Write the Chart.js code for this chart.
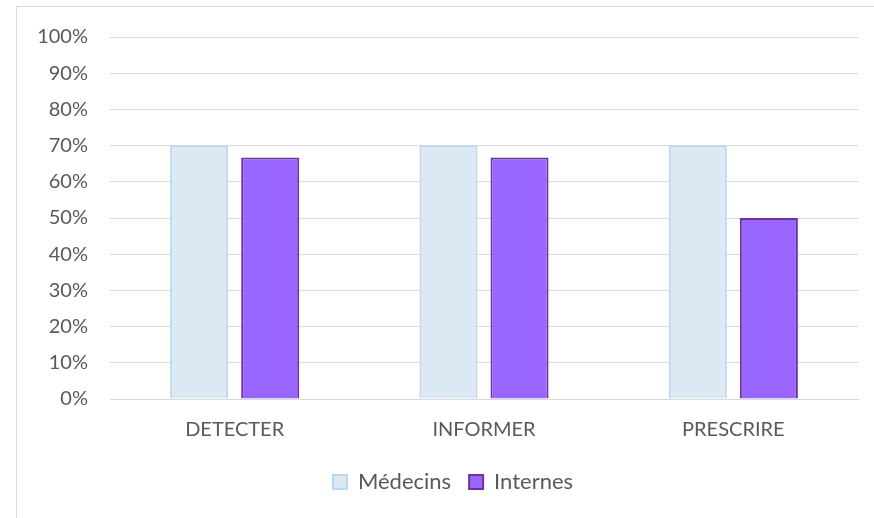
<!DOCTYPE html>
<html>
<head>
<meta charset="utf-8">
<script src="https://cdn.jsdelivr.net/npm/chart.js@4"></script>
<style>
  html, body { margin: 0; padding: 0; background: #fff; overflow: hidden; }
  #frame { position: absolute; left: 16px; top: 6px; width: 900px; height: 600px; border: 1px solid #d9d9d9; }
  #wrap { position: absolute; left: 0; top: 0; width: 874px; height: 518px; }
</style>
</head>
<body>
<div id="frame"></div>
<div id="wrap"><canvas id="chart" width="874" height="518"></canvas></div>
<script>
// Chart data
const categories = ['DETECTER', 'INFORMER', 'PRESCRIRE'];
const medecins = [70, 70, 70];
const internes = [66.7, 66.7, 50];
const yTicks = [0, 10, 20, 30, 40, 50, 60, 70, 80, 90, 100];

const font = { family: 'Lato, "Open Sans", sans-serif', size: 20 };
const grey = '#595959';

// the original legend sits a bit right of centre
const shiftLegend = {
    id: 'shiftLegend',
    afterLayout(chart) {
        chart.legend.left += 24;
        chart.legend.right += 24;
    }
};

const ctx = document.getElementById('chart').getContext('2d');
new Chart(ctx, {
    type: 'bar',
    data: {
        labels: categories,
        datasets: [{
            label: 'Médecins',
            data: medecins,
            backgroundColor: '#dde8f5',
            borderColor: '#bdd7ee',
            borderWidth: 2
        }, {
            label: 'Internes',
            data: internes,
            backgroundColor: '#9966ff',
            borderColor: '#7030a0',
            borderWidth: 2
        }]
    },
    options: {
        responsive: false,
        animation: false,
        categoryPercentage: 0.57,
        barPercentage: 0.817,
        layout: { padding: { left: 0, right: 16, top: 37, bottom: 15 } },
        plugins: {
            tooltip: { enabled: false },
            legend: {
                position: 'bottom',
                labels: {
                    color: grey,
                    font: { family: font.family, size: 22 },
                    boxWidth: 14,
                    boxHeight: 14,
                    padding: 18
                }
            }
        },
        scales: {
            x: {
                grid: { display: false },
                border: { color: '#d9d9d9', width: 1 },
                ticks: { color: grey, font: font, padding: 11 }
            },
            y: {
                min: 0,
                max: 100,
                afterFit: s => { s.width = 110; },
                afterBuildTicks: s => { s.ticks = yTicks.map(v => ({ value: v })); },
                grid: { color: '#d9d9d9', lineWidth: 1, drawTicks: false },
                border: { display: false },
                ticks: { color: grey, font: font, padding: 22, callback: v => v + '%' }
            }
        }
    },
    plugins: [shiftLegend]
});
</script>
</body>
</html>
